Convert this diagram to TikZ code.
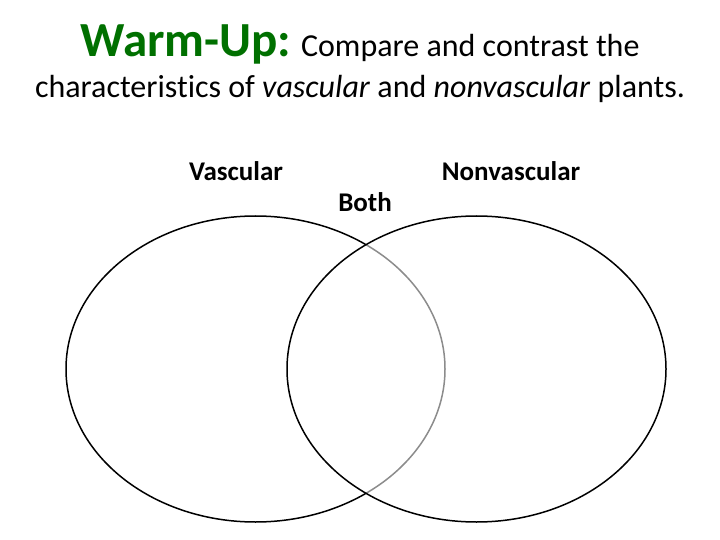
\documentclass[tikz,border=0pt]{standalone}
\usepackage{fontspec}
\setmainfont[RawFeature=-liga]{Carlito}
\definecolor{warm}{RGB}{0,112,0}
\tikzset{lab/.style={font=\fontsize{27}{30}\selectfont\bfseries},
ven/.style={draw=black,line width=1.5pt}}
\begin{document}
\begin{tikzpicture}[x=1pt,y=-1pt]
\useasboundingbox[fill=white] (0,0) rectangle (720,540);
\node (t1) at (360,44) {\fontsize{32}{36}\selectfont\textcolor{warm}{\fontsize{49}{52}\selectfont\bfseries Warm-Up:} Compare and contrast the};
\node (t2) at (360,89) {\fontsize{32}{36}\selectfont characteristics of \textit{vascular} and \textit{nonvascular} plants.};
\node[lab] (v) at (236,171) {Vascular};
\node[lab] (n) at (511,171) {Nonvascular};
\node[lab] (b) at (365,202) {Both};
\draw[ven] (255.5,369) ellipse [x radius=189.5, y radius=153];
\fill[white,opacity=0.55] (476.5,369) ellipse [x radius=189.5, y radius=153];
\draw[ven] (476.5,369) ellipse [x radius=189.5, y radius=153];
\end{tikzpicture}
\end{document}
